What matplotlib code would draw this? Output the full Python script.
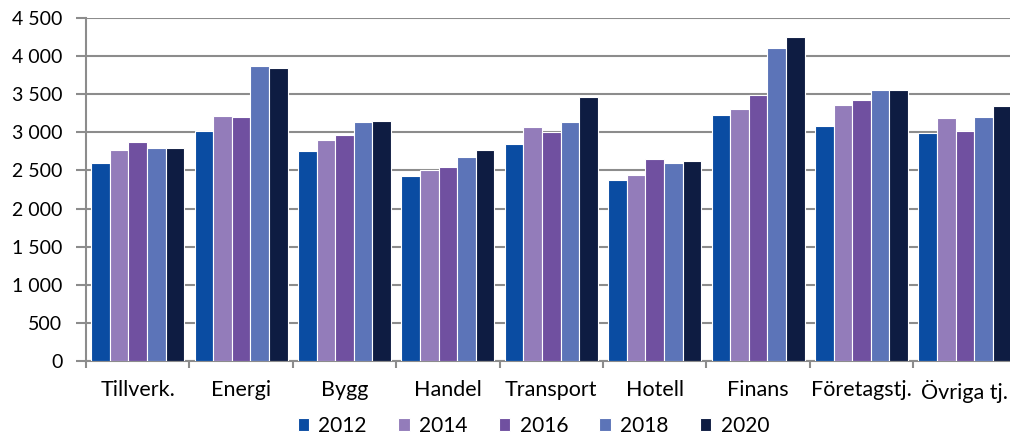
import numpy as np
import matplotlib.pyplot as plt
from matplotlib.ticker import FuncFormatter, FixedLocator

plt.rcParams['font.family'] = ['Lato', 'DejaVu Sans']

# Data
categories = ['Tillverk.', 'Energi', 'Bygg', 'Handel', 'Transport', 'Hotell',
              'Finans', 'Företagstj.', 'Övriga tj.']
years = ['2012', '2014', '2016', '2018', '2020']
v2012 = [2600, 3020, 2750, 2430, 2850, 2370, 3230, 3080, 2990]
v2014 = [2765, 3210, 2900, 2510, 3070, 2435, 3305, 3355, 3190]
v2016 = [2870, 3200, 2970, 2540, 3000, 2645, 3490, 3425, 3020]
v2018 = [2795, 3865, 3130, 2680, 3140, 2600, 4110, 3560, 3195]
v2020 = [2795, 3845, 3150, 2770, 3470, 2630, 4245, 3550, 3345]
series = [v2012, v2014, v2016, v2018, v2020]
colors = ['#0a4ca2', '#937cba', '#7050a0', '#5c74b8', '#0e1c42']

fig = plt.figure(figsize=(10.1, 4.37), dpi=100)
ax = fig.add_axes([86 / 1010, 76 / 437, 930.6 / 1010, 343 / 437])

x = np.arange(len(categories))
w = 0.18
for i, (vals, col) in enumerate(zip(series, colors)):
    ax.bar(x + (i - 2) * w, vals, width=w, color=col, edgecolor='white',
           linewidth=0.8, label=years[i], zorder=3)

ax.set_xlim(-0.5, len(categories) - 0.5)
ax.set_ylim(0, 4500)
ax.set_yticks(np.arange(0, 4501, 500))
ax.yaxis.set_major_formatter(FuncFormatter(lambda v, p: f'{int(v):,}'.replace(',', ' ')))
ax.grid(axis='y', color='#8c8c8c', linewidth=1.5, zorder=0)

# category labels between boundary ticks
ax.xaxis.set_major_locator(FixedLocator(np.arange(-0.5, len(categories), 1.0)))
ax.xaxis.set_minor_locator(FixedLocator(x))
ax.set_xticklabels([])
ax.set_xticklabels(categories, minor=True)
ax.tick_params(axis='x', which='major', length=5, width=1.5, color='#8c8c8c')
ax.tick_params(axis='x', which='minor', length=0, pad=14, labelsize=15.5)
ax.tick_params(axis='y', length=7, width=1.5, color='#8c8c8c', labelsize=14, pad=10)

for s in ['top', 'right']:
    ax.spines[s].set_visible(False)
for s in ['left', 'bottom']:
    ax.spines[s].set_color('#8c8c8c')
    ax.spines[s].set_linewidth(1.5)

fig.legend(loc='lower center', bbox_to_anchor=(0.528, -0.04), ncol=5, frameon=False,
           fontsize=15, handlelength=0.55, handleheight=0.55, handletextpad=0.45,
           columnspacing=1.5)

fig.savefig('out.png', dpi=100)
